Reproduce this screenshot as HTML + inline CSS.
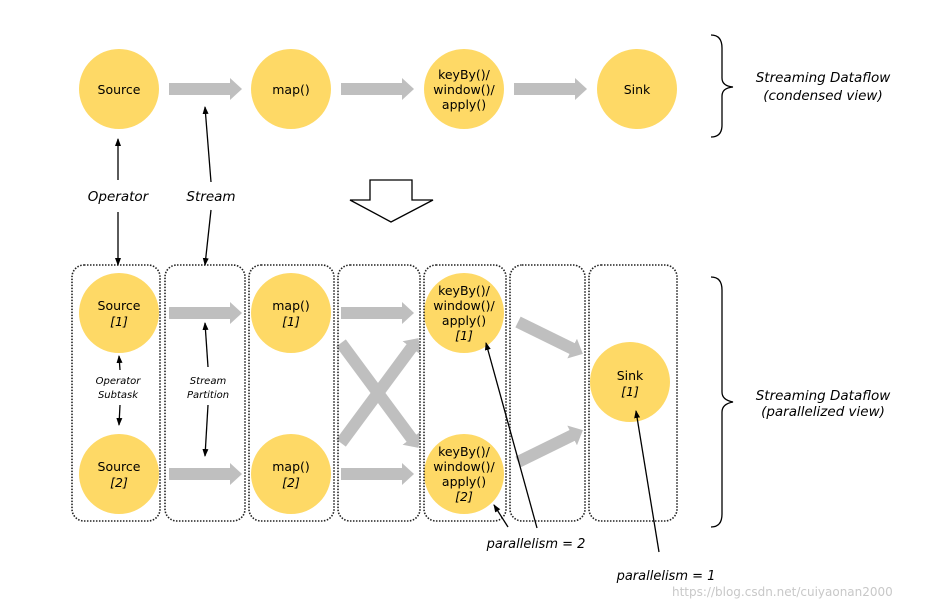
<!DOCTYPE html><html><head><style>body{margin:0;background:#fff}svg{display:block}text{font-family:"DejaVu Sans","Liberation Sans",sans-serif;font-size:12.5px;fill:#000}</style></head><body>
<svg width="943" height="608" viewBox="0 0 943 608" xmlns="http://www.w3.org/2000/svg">
<defs>
<marker id="g" markerWidth="12" markerHeight="22" refX="1" refY="11" orient="auto" markerUnits="userSpaceOnUse"><path d="M0,0 L12,11 L0,22Z" fill="#bfbfbf"/></marker>
<marker id="a" markerWidth="8" markerHeight="8" refX="7" refY="4" orient="auto" markerUnits="userSpaceOnUse"><path d="M0,1 L8,4 L0,7Z" fill="#000"/></marker>
</defs>
<g fill="#fed966">
<circle cx="119" cy="89" r="40"/><circle cx="291" cy="89" r="40"/><circle cx="464" cy="89" r="40"/><circle cx="637" cy="89" r="40"/>
<circle cx="119" cy="313" r="40"/><circle cx="119" cy="474" r="40"/><circle cx="291" cy="313" r="40"/><circle cx="291" cy="474" r="40"/>
<circle cx="464" cy="313" r="40"/><circle cx="464" cy="474" r="40"/><circle cx="630" cy="382" r="40"/>
</g>
<g stroke="#bfbfbf" stroke-width="12" fill="none" marker-end="url(#g)">
<line x1="169" y1="89" x2="231" y2="89"/><line x1="341" y1="89" x2="403" y2="89"/><line x1="514" y1="89" x2="576" y2="89"/>
<line x1="169" y1="313" x2="231" y2="313"/><line x1="169" y1="474" x2="231" y2="474"/>
<line x1="341" y1="313" x2="403" y2="313"/><line x1="341" y1="474" x2="403" y2="474"/>
<line x1="341" y1="443" x2="412" y2="347"/><line x1="341" y1="343" x2="412" y2="439"/>
<line x1="518" y1="322" x2="573" y2="349"/><line x1="518" y1="462" x2="573" y2="435"/>
</g>
<g fill="none" stroke="#222" stroke-width="1.6" stroke-dasharray="1.5,1.5">
<rect x="72" y="265" width="88" height="256" rx="12"/><rect x="165" y="265" width="80" height="256" rx="12"/>
<rect x="249" y="265" width="85" height="256" rx="12"/><rect x="338" y="265" width="82" height="256" rx="12"/>
<rect x="424" y="265" width="82" height="256" rx="12"/><rect x="510" y="265" width="75" height="256" rx="12"/>
<rect x="589" y="265" width="88" height="256" rx="12"/>
</g>
<g stroke="#000" stroke-width="1.3" fill="none">
<line x1="118" y1="180" x2="118" y2="139" marker-end="url(#a)"/><line x1="118" y1="212" x2="118" y2="265" marker-end="url(#a)"/>
<line x1="211" y1="182" x2="205" y2="107" marker-end="url(#a)"/><line x1="211" y1="210" x2="205" y2="265" marker-end="url(#a)"/>
<line x1="120" y1="370" x2="119" y2="356" marker-end="url(#a)"/><line x1="120" y1="405" x2="119" y2="425" marker-end="url(#a)"/>
<line x1="208" y1="367" x2="205" y2="323" marker-end="url(#a)"/><line x1="208" y1="405" x2="205" y2="456" marker-end="url(#a)"/>
<line x1="537" y1="528" x2="486" y2="343" marker-end="url(#a)"/><line x1="508" y1="527" x2="494" y2="505" marker-end="url(#a)"/>
<line x1="659" y1="552" x2="636" y2="411" marker-end="url(#a)"/>
<path d="M711,35 Q722,35 722,48 L722,78 Q722,86 733,87 Q722,88 722,96 L722,125 Q722,137 711,137"/>
<path d="M711,277 Q722,277 722,290 L722,392 Q722,400 733,402 Q722,404 722,412 L722,514 Q722,527 711,527"/>
</g>
<path d="M370,180 H412 V200 H433 L391,222 L350,200 H370Z" fill="#fff" stroke="#000" stroke-width="1.3"/>
<g text-anchor="middle">
<text x="119" y="94">Source</text><text x="291" y="94">map()</text>
<text x="464" y="79">keyBy()/</text><text x="464" y="94">window()/</text><text x="464" y="109">apply()</text>
<text x="637" y="94">Sink</text>
<text x="119" y="310">Source</text><text x="119" y="326" font-style="italic">[1]</text>
<text x="119" y="471">Source</text><text x="119" y="487" font-style="italic">[2]</text>
<text x="291" y="310">map()</text><text x="291" y="326" font-style="italic">[1]</text>
<text x="291" y="471">map()</text><text x="291" y="487" font-style="italic">[2]</text>
<text x="464" y="295">keyBy()/</text><text x="464" y="310">window()/</text><text x="464" y="325">apply()</text><text x="464" y="340" font-style="italic">[1]</text>
<text x="464" y="456">keyBy()/</text><text x="464" y="471">window()/</text><text x="464" y="486">apply()</text><text x="464" y="501" font-style="italic">[2]</text>
<text x="630" y="380">Sink</text><text x="630" y="396" font-style="italic">[1]</text>
<g font-style="italic">
<text x="118" y="201" style="font-size:13.5px">Operator</text><text x="211" y="201" style="font-size:13.5px">Stream</text>
<text x="118" y="384" style="font-size:10px">Operator</text><text x="118" y="398" style="font-size:10px">Subtask</text>
<text x="208" y="384" style="font-size:10px">Stream</text><text x="208" y="398" style="font-size:10px">Partition</text>
<text x="823" y="82" style="font-size:13.5px">Streaming Dataflow</text><text x="823" y="100" style="font-size:13.5px">(condensed view)</text>
<text x="823" y="400" style="font-size:13.5px">Streaming Dataflow</text><text x="823" y="416" style="font-size:13.5px">(parallelized view)</text>
<text x="536" y="548" style="font-size:13px">parallelism = 2</text>
<text x="666" y="580" style="font-size:13px">parallelism = 1</text>
</g>
</g>
<text x="672" y="596" style="font-size:12px;fill:#c8c8c8">https://blog.csdn.net/cuiyaonan2000</text>
</svg>
</body></html>
